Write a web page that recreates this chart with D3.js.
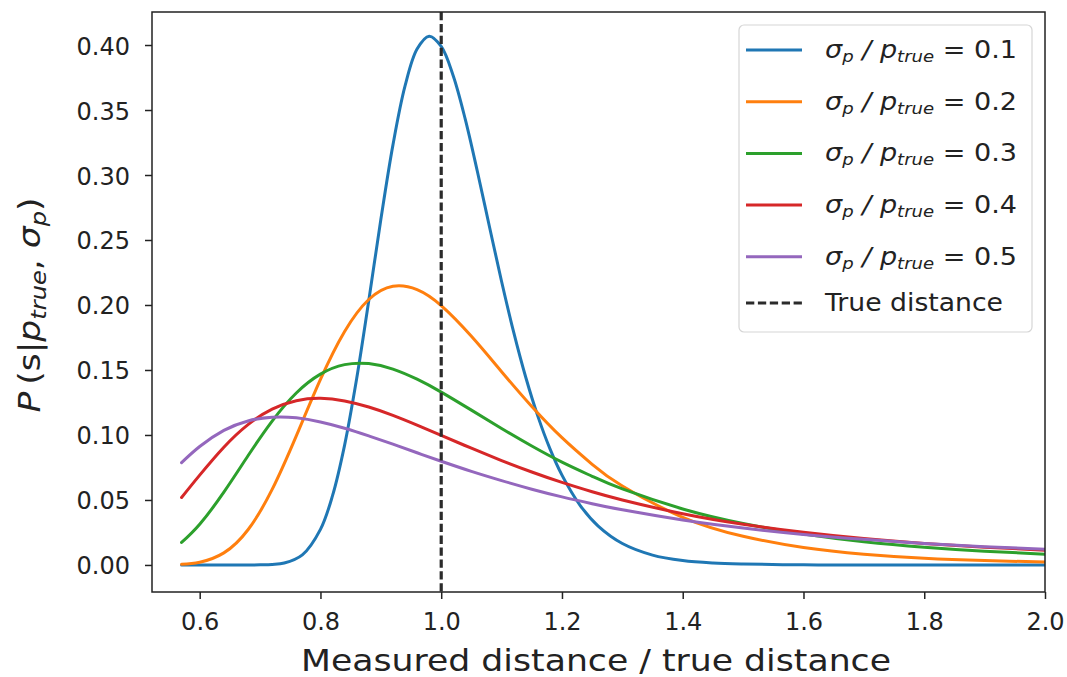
<!DOCTYPE html>
<html>
<head>
<meta charset="utf-8">
<script src="https://cdn.jsdelivr.net/npm/d3@7/dist/d3.min.js"></script>
<style>
  html, body { margin: 0; padding: 0; background: #fff; }
  svg { display: block; }
  text { font-family: "DejaVu Sans", sans-serif; fill: #222; }
</style>
</head>
<body>
<svg id="chart" width="1067" height="677"></svg>
<script>
// Measured distance / true distance, fine grid for the narrow 0.1 curve
const distanceFine = [0.57, 0.65, 0.70, 0.72, 0.74, 0.77, 0.80, 0.82, 0.84, 0.86, 0.88, 0.90, 0.92,
  0.94, 0.96, 0.98, 1.00, 1.02, 1.04, 1.06, 1.08, 1.10, 1.12, 1.14, 1.16, 1.18, 1.20,
  1.23, 1.26, 1.30, 1.35, 1.40, 1.45, 1.50, 1.60, 1.70, 1.80, 2.00];
// Measured distance / true distance, grid for the wider curves
const distance = [0.57, 0.60, 0.64, 0.68, 0.72, 0.76, 0.80, 0.84, 0.88, 0.92, 0.96, 1.00,
  1.05, 1.10, 1.15, 1.20, 1.25, 1.30, 1.40, 1.50, 1.60, 1.70, 1.80, 1.90, 2.00];

const sigma01 = [0.0000, 0.0000, 0.0001, 0.0004, 0.0015, 0.0078, 0.0274, 0.0533, 0.0922, 0.1434, 0.2033,
  0.2657, 0.3230, 0.3683, 0.3969, 0.4068, 0.3989, 0.3762, 0.3426, 0.3025, 0.2600, 0.2181,
  0.1791, 0.1444, 0.1145, 0.0895, 0.0691, 0.0459, 0.0299, 0.0165, 0.0076, 0.0034, 0.0015,
  0.0007, 0.0001, 0.0000, 0.0000, 0.0000];
const sigma02 = [0.0005, 0.0021, 0.0093, 0.0271, 0.0581, 0.0993, 0.1427, 0.1796, 0.2042, 0.2144,
  0.2118, 0.1995, 0.1759, 0.1487, 0.1219, 0.0979, 0.0774, 0.0607, 0.0367, 0.0221, 0.0134,
  0.0083, 0.0052, 0.0034, 0.0022];
const sigma03 = [0.0173, 0.0313, 0.0560, 0.0840, 0.1107, 0.1323, 0.1468, 0.1541, 0.1549, 0.1507,
  0.1429, 0.1330, 0.1191, 0.1050, 0.0915, 0.0791, 0.0682, 0.0585, 0.0431, 0.0319, 0.0238,
  0.0179, 0.0137, 0.0106, 0.0083];
const sigma04 = [0.0519, 0.0691, 0.0906, 0.1080, 0.1199, 0.1264, 0.1282, 0.1262, 0.1215, 0.1151,
  0.1076, 0.0997, 0.0898, 0.0803, 0.0715, 0.0635, 0.0563, 0.0500, 0.0394, 0.0313, 0.0251,
  0.0203, 0.0166, 0.0137, 0.0114];
const sigma05 = [0.0787, 0.0911, 0.1035, 0.1108, 0.1137, 0.1132, 0.1100, 0.1052, 0.0993, 0.0929,
  0.0863, 0.0798, 0.0720, 0.0649, 0.0583, 0.0524, 0.0471, 0.0424, 0.0346, 0.0284, 0.0235,
  0.0197, 0.0166, 0.0141, 0.0121];

const ratioLabels = ["0.1", "0.2", "0.3", "0.4", "0.5"];
const lineColors = ["#1f77b4", "#ff7f0e", "#2ca02c", "#d62728", "#9467bd"];
const xTicks = [0.6, 0.8, 1.0, 1.2, 1.4, 1.6, 1.8, 2.0];
const yTicks = [0.00, 0.05, 0.10, 0.15, 0.20, 0.25, 0.30, 0.35, 0.40];
const trueDistance = 1.0;

const series = [
  { xs: distanceFine, ys: sigma01, narrow: true },
  { xs: distance, ys: sigma02 },
  { xs: distance, ys: sigma03 },
  { xs: distance, ys: sigma04 },
  { xs: distance, ys: sigma05 }
].map((s, i) => ({
  label: ratioLabels[i],
  color: lineColors[i],
  narrow: !!s.narrow,
  points: s.xs.map((d, j) => [d, s.ys[j]])
}));

const svg = d3.select("#chart");
const plot = { left: 152, right: 1045, top: 12, bottom: 592 };

const x = d3.scaleLinear().domain([0.521, 2.0]).range([plot.left, plot.right]);
const y = d3.scaleLinear().domain([-0.0208, 0.4254]).range([plot.bottom, plot.top]);

svg.append("defs").append("clipPath").attr("id", "plot-clip")
  .append("rect")
  .attr("x", plot.left).attr("y", plot.top)
  .attr("width", plot.right - plot.left).attr("height", plot.bottom - plot.top);

// Axes with outward ticks
const xAxis = svg.append("g")
  .attr("transform", `translate(0,${plot.bottom})`)
  .call(d3.axisBottom(x).tickValues(xTicks).tickFormat(d3.format(".1f")).tickSizeOuter(0).tickSize(7));
const yAxis = svg.append("g")
  .attr("transform", `translate(${plot.left},0)`)
  .call(d3.axisLeft(y).tickValues(yTicks).tickFormat(d3.format(".2f")).tickSizeOuter(0).tickSize(7));

[xAxis, yAxis].forEach(g => {
  g.select(".domain").remove();
  g.selectAll(".tick line").attr("stroke", "#222").attr("stroke-width", 1.5);
  g.selectAll(".tick text")
    .style("font-family", "'DejaVu Sans', sans-serif")
    .style("font-size", "24px")
    .attr("fill", "#262626");
});
xAxis.selectAll(".tick text").attr("y", 0).attr("dy", 38);
yAxis.selectAll(".tick text").attr("x", -22).attr("dy", 9);

// Curves: the narrow peak uses a Catmull-Rom spline, the broad ones a natural spline
const lineNarrow = d3.line()
  .x(d => x(d[0]))
  .y(d => y(d[1]))
  .curve(d3.curveCatmullRom.alpha(0.5));
const lineBroad = d3.line()
  .x(d => x(d[0]))
  .y(d => y(d[1]))
  .curve(d3.curveNatural);

const curves = svg.append("g").attr("clip-path", "url(#plot-clip)");
curves.selectAll("path.curve")
  .data(series)
  .join("path")
  .attr("class", "curve")
  .attr("d", d => (d.narrow ? lineNarrow : lineBroad)(d.points))
  .attr("fill", "none")
  .attr("stroke", d => d.color)
  .attr("stroke-width", 3)
  .attr("stroke-linejoin", "round")
  .attr("stroke-linecap", "round");

// True distance marker
curves.append("line")
  .attr("x1", x(trueDistance)).attr("x2", x(trueDistance))
  .attr("y1", plot.top).attr("y2", plot.bottom)
  .attr("stroke", "#2b2b2b")
  .attr("stroke-width", 3.2)
  .attr("stroke-dasharray", "8.3,3.6");

// Frame
svg.append("rect")
  .attr("x", plot.left).attr("y", plot.top)
  .attr("width", plot.right - plot.left).attr("height", plot.bottom - plot.top)
  .attr("fill", "none")
  .attr("stroke", "#222")
  .attr("stroke-width", 1.5);

// Axis labels
svg.append("text")
  .attr("x", 596).attr("y", 671)
  .attr("text-anchor", "middle")
  .attr("textLength", 590)
  .attr("lengthAdjust", "spacingAndGlyphs")
  .style("font-size", "30px")
  .text("Measured distance / true distance");

const yLabel = svg.append("text")
  .attr("transform", "translate(40,305) rotate(-90)")
  .attr("text-anchor", "middle")
  .attr("textLength", 215)
  .attr("lengthAdjust", "spacingAndGlyphs")
  .style("font-size", "30px");
yLabel.append("tspan").style("font-style", "italic").text("P");
yLabel.append("tspan").text("\u2009(s|");
yLabel.append("tspan").style("font-style", "italic").text("p");
yLabel.append("tspan").style("font-style", "italic").style("font-size", "21px").attr("dy", 6).text("true");
yLabel.append("tspan").attr("dy", -6).text(", ");
yLabel.append("tspan").style("font-style", "italic").text("\u03c3");
yLabel.append("tspan").style("font-style", "italic").style("font-size", "21px").attr("dy", 6).text("p");
yLabel.append("tspan").attr("dy", -6).text(")");

// Legend
const legend = svg.append("g");
legend.append("rect")
  .attr("x", 739).attr("y", 25).attr("width", 293).attr("height", 307)
  .attr("rx", 5)
  .attr("fill", "#fff").attr("fill-opacity", 0.8)
  .attr("stroke", "#d6d6d6").attr("stroke-width", 1.2);

const rowY = i => 50 + i * 51.7;
series.forEach((s, i) => {
  const ry = rowY(i);
  legend.append("line")
    .attr("x1", 746).attr("x2", 802).attr("y1", ry).attr("y2", ry)
    .attr("stroke", s.color).attr("stroke-width", 3);
  const t = legend.append("text")
    .attr("x", 825).attr("y", ry + 8)
    .attr("textLength", 192)
    .attr("lengthAdjust", "spacingAndGlyphs")
    .style("font-size", "24px");
  t.append("tspan").style("font-style", "italic").text("\u03c3");
  t.append("tspan").style("font-style", "italic").style("font-size", "16px").attr("dy", 4).text("p");
  t.append("tspan").attr("dy", -4).style("font-style", "italic").text(" / p");
  t.append("tspan").style("font-style", "italic").style("font-size", "16px").attr("dy", 4).text("true");
  t.append("tspan").attr("dy", -4).text(" = " + s.label);
});
const lastY = 303;
legend.append("line")
  .attr("x1", 746).attr("x2", 802).attr("y1", lastY).attr("y2", lastY)
  .attr("stroke", "#2b2b2b").attr("stroke-width", 3.2)
  .attr("stroke-dasharray", "8.3,3.6");
legend.append("text")
  .attr("x", 825).attr("y", lastY + 8)
  .attr("textLength", 178)
  .attr("lengthAdjust", "spacingAndGlyphs")
  .style("font-size", "24px")
  .text("True distance");
</script>
</body>
</html>
